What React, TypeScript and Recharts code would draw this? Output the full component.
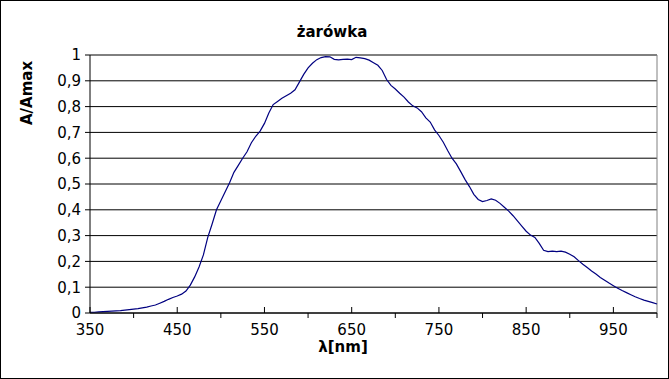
import { LineChart, Line, XAxis, YAxis, CartesianGrid, ReferenceLine } from "recharts"

const wavelengths = [
  350, 355, 360, 365, 370, 375, 380, 385, 390, 395, 400, 405, 410, 415, 420, 425, 430, 435, 440, 445,
  450, 455, 460, 465, 470, 475, 480, 485, 490, 495, 500, 505, 510, 515, 520, 525, 530, 535, 540, 545,
  550, 555, 560, 565, 570, 575, 580, 585, 590, 595, 600, 605, 610, 615, 620, 625, 630, 635, 640, 645,
  650, 655, 660, 665, 670, 675, 680, 685, 690, 695, 700, 705, 710, 715, 720, 725, 730, 735, 740, 745,
  750, 755, 760, 765, 770, 775, 780, 785, 790, 795, 800, 805, 810, 815, 820, 825, 830, 835, 840, 845,
  850, 855, 860, 865, 870, 875, 880, 885, 890, 895, 900, 905, 910, 915, 920, 925, 930, 935, 940, 945,
  950, 955, 960, 965, 970, 975, 980, 985, 990, 995, 1000,
]

const absorbance = [
  0.003, 0.003, 0.004, 0.005, 0.006, 0.007, 0.008, 0.009, 0.011, 0.013, 0.015, 0.017, 0.02, 0.023, 0.027, 0.031, 0.038, 0.045, 0.053, 0.06,
  0.066, 0.073, 0.085, 0.108, 0.14, 0.178, 0.225, 0.293, 0.345, 0.4, 0.435, 0.47, 0.505, 0.545, 0.572, 0.6, 0.625, 0.66, 0.685, 0.705,
  0.735, 0.775, 0.808, 0.82, 0.832, 0.842, 0.852, 0.865, 0.895, 0.925, 0.95, 0.968, 0.982, 0.99, 0.994, 0.993, 0.983, 0.981, 0.983, 0.984,
  0.982, 0.991, 0.989, 0.986, 0.98, 0.97, 0.96, 0.94, 0.905, 0.882, 0.868, 0.852, 0.837, 0.818, 0.803, 0.795, 0.78, 0.756, 0.74, 0.71,
  0.688, 0.662, 0.63, 0.6, 0.578, 0.548, 0.517, 0.49, 0.46, 0.44, 0.432, 0.436, 0.442, 0.437, 0.425, 0.41, 0.395, 0.377, 0.357, 0.337,
  0.317, 0.302, 0.293, 0.27, 0.243, 0.238, 0.24, 0.238, 0.24, 0.236, 0.228, 0.218, 0.203, 0.189, 0.176, 0.163, 0.151, 0.138, 0.127, 0.116,
  0.106, 0.096, 0.087, 0.079, 0.071, 0.063, 0.056, 0.05, 0.045, 0.04, 0.035,
]

const xTicks = [350, 400, 450, 500, 550, 600, 650, 700, 750, 800, 850, 900, 950, 1000]
const yTicks = [0, 0.1, 0.2, 0.3, 0.4, 0.5, 0.6, 0.7, 0.8, 0.9, 1]

const data = wavelengths.map((w, i) => ({ w, a: absorbance[i] }))

const font = "'DejaVu Sans', Verdana, sans-serif"

// labelled ticks point into the plot, the others point out
const XTick = (props: any) => {
  const { x, y, payload } = props
  const labelled = (payload.value - 350) % 100 === 0
  return (
    <g>
      <line x1={x} x2={x} y1={y} y2={labelled ? y - 6 : y + 5} stroke="#000" />
      {labelled && (
        <text x={x} y={y + 22} textAnchor="middle" fontSize={15} fontFamily={font} fill="#000">
          {payload.value}
        </text>
      )}
    </g>
  )
}

export default function App() {
  return (
    <div
      style={{
        position: "absolute",
        left: 0,
        top: 0,
        width: 669,
        height: 379,
        boxSizing: "border-box",
        border: "1px solid #000",
        background: "#fff",
        fontFamily: font,
      }}
    >
      <div
        style={{
          position: "absolute",
          left: 331,
          top: 31,
          transform: "translate(-50%, -50%)",
          fontWeight: "bold",
          fontSize: 15,
          whiteSpace: "nowrap",
        }}
      >
        żarówka
      </div>
      <div
        style={{
          position: "absolute",
          left: 26,
          top: 92,
          transform: "translate(-50%, -50%) rotate(-90deg)",
          fontWeight: "bold",
          fontSize: 15,
          whiteSpace: "nowrap",
        }}
      >
        A/Amax
      </div>
      <div
        style={{
          position: "absolute",
          left: 342,
          top: 346,
          transform: "translate(-50%, -50%)",
          fontWeight: "bold",
          fontSize: 15,
          lineHeight: "15px",
          whiteSpace: "nowrap",
        }}
      >
        λ[nm]
      </div>
      <div style={{ position: "absolute", left: -1, top: -1 }}>
        <LineChart width={669} height={379} data={data} margin={{ top: 55, right: 12, bottom: 36, left: 30 }}>
          <CartesianGrid horizontal={true} vertical={false} stroke="#000" strokeOpacity={1} />
          <ReferenceLine x={1000} stroke="#808080" />
          <XAxis
            dataKey="w"
            type="number"
            domain={[350, 1000]}
            ticks={xTicks}
            interval={0}
            height={30}
            tickSize={0}
            tickMargin={0}
            tickLine={false}
            tick={<XTick />}
            axisLine={{ stroke: "#000" }}
          />
          <YAxis
            type="number"
            domain={[0, 1]}
            ticks={yTicks}
            interval={0}
            width={60}
            tickSize={5}
            tickMargin={4}
            tickLine={{ stroke: "#000" }}
            axisLine={{ stroke: "#000" }}
            tick={{ fill: "#000", fontSize: 15, fontFamily: font }}
            tickFormatter={(v: number) => String(v).replace(".", ",")}
          />
          <Line
            type="linear"
            dataKey="a"
            stroke="#000080"
            strokeWidth={1.2}
            dot={false}
            isAnimationActive={false}
          />
        </LineChart>
      </div>
    </div>
  )
}
